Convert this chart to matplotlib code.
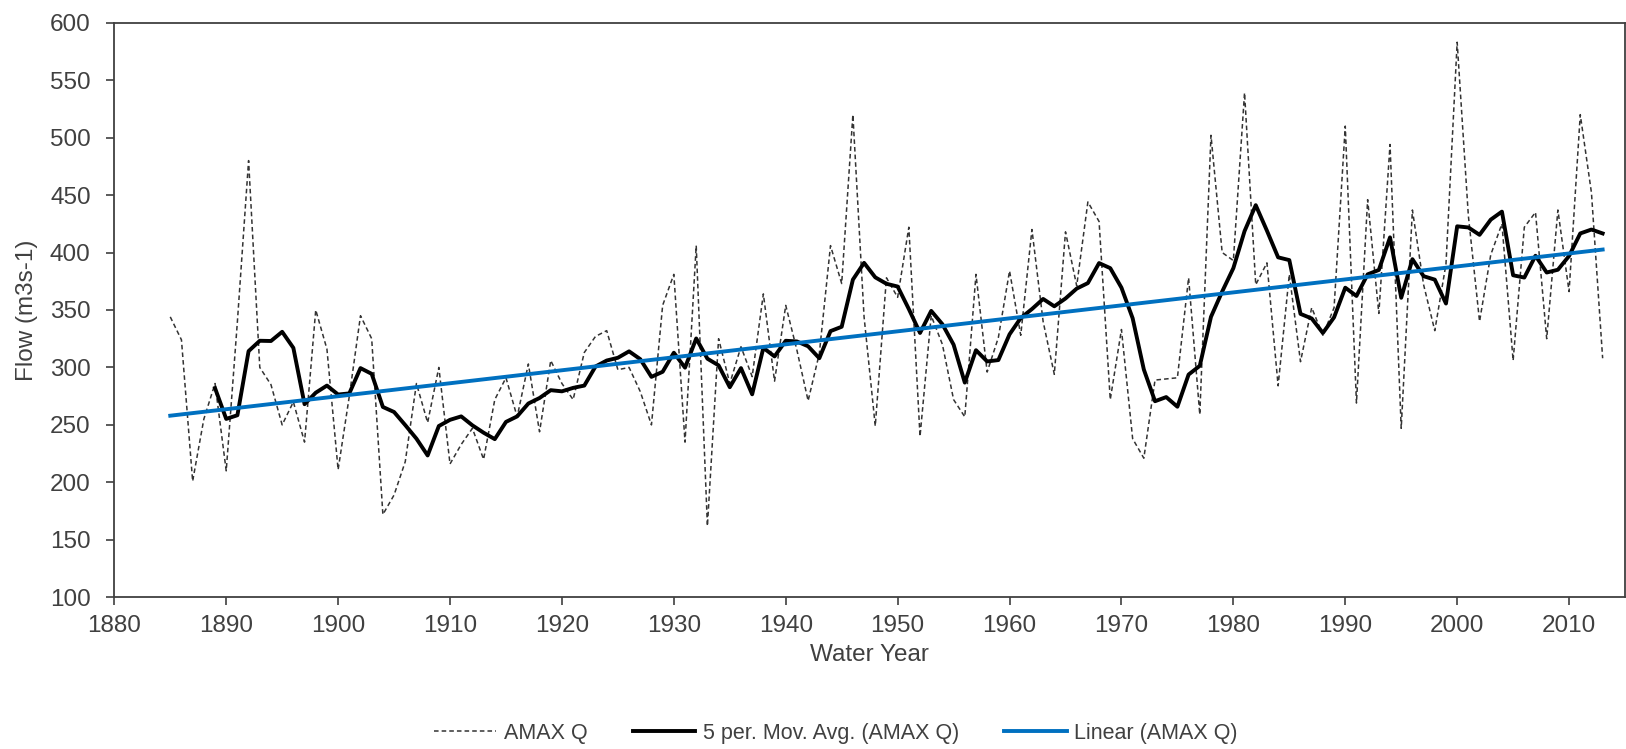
import numpy as np
import pandas as pd
import matplotlib
matplotlib.use('Agg')
import matplotlib.pyplot as plt

plt.rcParams['font.family'] = ['Liberation Sans', 'DejaVu Sans']

# Annual maximum flow, water years 1885-2013
years = list(range(1885, 2014))
amax_q = [344, 324, 201, 255, 286, 210, 340, 480, 300, 285,
          250, 270, 235, 350, 316, 211, 275, 345, 325, 172,
          189, 218, 286, 252, 300, 216, 233, 247, 220, 272,
          291, 257, 303, 244, 306, 286, 272, 313, 327, 332,
          298, 300, 279, 250, 354, 381, 235, 406, 162, 325,
          286, 318, 292, 364, 288, 354, 315, 271, 312, 406,
          373, 520, 344, 249, 378, 361, 422, 240, 345, 320,
          272, 257, 381, 296, 326, 384, 328, 420, 340, 294,
          418, 371, 444, 427, 272, 333, 238, 221, 289, 290,
          291, 378, 259, 502, 400, 393, 539, 372, 391, 284,
          381, 305, 352, 328, 352, 510, 269, 446, 347, 494,
          247, 437, 372, 332, 390, 583, 432, 340, 398, 425,
          306, 422, 435, 325, 437, 366, 520, 452, 308]

s = pd.Series(amax_q, index=years)
mov_avg = s.rolling(5).mean()
coef = np.polyfit(years, amax_q, 1)
trend = np.polyval(coef, years)

txt = '#404040'

fig = plt.figure(figsize=(16.26, 7.49), dpi=100)
ax = fig.add_axes([0.0703, 0.2026, 0.9291, 0.7671])

ax.plot(years, amax_q, color='#333333', lw=1.1, ls=(0, (3, 2)), label='AMAX Q')
ax.plot(years, mov_avg, color='black', lw=2.8, label='5 per. Mov. Avg. (AMAX Q)')
ax.plot(years, trend, color='#0070C0', lw=2.8, label='Linear (AMAX Q)')

ax.set_xlim(1880, 2015)
ax.set_ylim(100, 600)
ax.set_xticks(range(1880, 2011, 10))
ax.set_yticks(range(100, 601, 50))
ax.tick_params(direction='out', length=6, width=1.2, colors=txt, labelsize=17.5)
ax.tick_params(axis='x', pad=7)
ax.tick_params(axis='y', pad=11)
for sp in ax.spines.values():
    sp.set_color('#404040')
    sp.set_linewidth(1.3)

ax.set_xlabel('Water Year', fontsize=17.5, color=txt)
ax.set_ylabel('Flow (m3s-1)', fontsize=17.5, color=txt)
ax.xaxis.set_label_coords(0.5, -0.10, transform=ax.transAxes)
ax.yaxis.set_label_coords(-0.058, 0.5, transform=ax.transAxes)
ax.xaxis.label.set_va('center')
ax.yaxis.label.set_va('center')

fig.legend(loc='center', bbox_to_anchor=(0.514, 0.021), ncol=3, frameon=False,
           fontsize=15.5, handlelength=2.9, columnspacing=2.1, handletextpad=0.35,
           labelcolor=txt)

fig.savefig('out.png', dpi=100)
